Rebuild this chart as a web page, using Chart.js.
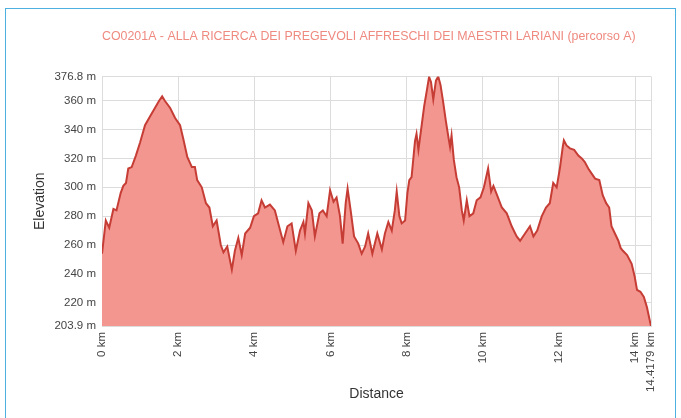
<!DOCTYPE html>
<html>
<head>
<meta charset="utf-8">
<script src="https://cdn.jsdelivr.net/npm/chart.js@4/dist/chart.umd.min.js"></script>
<style>
  html, body { margin: 0; padding: 0; background: #fff; overflow: hidden; }
  #frame { position: absolute; left: 5px; top: 8px; width: 669px; height: 420px; border: 1px solid #4cb0e0; }
  #wrap { position: absolute; left: 0; top: 0; width: 681px; height: 418px; }
</style>
</head>
<body>
<div id="frame"></div>
<div id="wrap"><canvas id="profileChart" width="681" height="418"></canvas></div>
<script>
// elevation profile
const chartTitle = 'CO0201A - ALLA RICERCA DEI PREGEVOLI AFFRESCHI DEI MAESTRI LARIANI (percorso A)';

const distKm = [
  0.00, 0.10, 0.19, 0.30, 0.38, 0.49, 0.56, 0.63, 0.69, 0.78, 0.89, 1.00, 1.13, 1.26, 1.39, 1.50,
  1.58, 1.65, 1.79, 1.92, 2.05, 2.14, 2.24, 2.36, 2.44, 2.50, 2.62, 2.73, 2.82, 2.91, 3.01, 3.12,
  3.19, 3.29, 3.41, 3.49, 3.58, 3.67, 3.76, 3.89, 3.99, 4.10, 4.19, 4.28, 4.41, 4.54, 4.63, 4.76,
  4.87, 4.98, 5.09, 5.20, 5.29, 5.33, 5.42, 5.51, 5.59, 5.71, 5.80, 5.90, 5.99, 6.08, 6.16, 6.25,
  6.32, 6.40, 6.45, 6.53, 6.62, 6.73, 6.82, 6.91, 6.99, 7.10, 7.23, 7.35, 7.43, 7.52, 7.61, 7.69,
  7.74, 7.81, 7.87, 7.96, 8.02, 8.07, 8.13, 8.22, 8.26, 8.31, 8.40, 8.46, 8.53, 8.59, 8.64, 8.70,
  8.77, 8.83, 8.89, 8.96, 9.03, 9.09, 9.14, 9.18, 9.24, 9.31, 9.38, 9.45, 9.50, 9.58, 9.65, 9.75,
  9.84, 9.94, 10.03, 10.14, 10.22, 10.28, 10.37, 10.50, 10.63, 10.76, 10.89, 10.98, 11.11, 11.24,
  11.33, 11.43, 11.55, 11.66, 11.76, 11.85, 11.94, 12.03, 12.10, 12.13, 12.20, 12.29, 12.40, 12.51,
  12.60, 12.68, 12.77, 12.86, 12.95, 13.06, 13.15, 13.24, 13.32, 13.38, 13.47, 13.56, 13.62, 13.68,
  13.79, 13.91, 13.99, 14.05, 14.14, 14.23, 14.31, 14.40, 14.4179
];

const elevM = [
  254, 277, 272, 285, 284, 296, 301, 303, 313, 314, 322, 331, 343, 349, 355, 360,
  363, 360, 355, 348, 343, 333, 321, 314, 314, 305, 300, 289, 286, 273, 277, 260,
  255, 259, 243, 256, 265, 253, 268, 272, 280, 282, 291, 286, 288, 284, 275, 262,
  273, 275, 256, 270, 276, 268, 289, 284, 266, 282, 284, 280, 298, 290, 293, 280,
  261, 289, 299, 284, 266, 261, 254, 259, 268, 254, 268, 257, 268, 276, 270, 284,
  297, 280, 275, 277, 296, 305, 307, 332, 337, 326, 344, 356, 367, 376.5, 373, 361,
  374, 376.8, 371, 359, 346, 336, 328, 336, 319, 307, 300, 284, 277, 291, 280, 282,
  291, 293, 300, 313, 297, 301, 295, 286, 282, 273, 266, 263, 268, 273,
  266, 270, 280, 286, 289, 303, 300, 314, 328, 332.5, 329, 327, 326, 322,
  320, 317.5, 313, 309.5, 306, 305, 294.5, 289, 286, 273, 268, 263, 258, 256,
  253, 247, 238, 229, 227.6, 224, 217, 206, 203.9
];

const xTickKm = [0, 2, 4, 6, 8, 10, 12, 14, 14.4179];
const yTickM = [203.9, 220, 240, 260, 280, 300, 320, 340, 360, 376.8];

document.addEventListener('DOMContentLoaded', function () {

  Chart.defaults.font.family = "'Liberation Sans', Arial, sans-serif";

  const ctx = document.getElementById('profileChart').getContext('2d');
  const points = distKm.map((d, i) => ({ x: d, y: elevM[i] }));

  new Chart(ctx, {
    type: 'line',
    data: {
      datasets: [{
        label: 'Elevation',
        data: points,
        borderColor: '#c63d36',
        borderWidth: 2,
        backgroundColor: '#f3968f',
        fill: 'start',
        pointRadius: 0,
        tension: 0
      }]
    },
    options: {
      responsive: false,
      animation: false,
      layout: { padding: { left: 26, right: 30, top: 0, bottom: 11 } },
      plugins: {
        legend: { display: false },
        tooltip: { enabled: false },
        title: {
          display: true,
          text: chartTitle,
          color: '#ef8a80',
          align: 'start',
          fullSize: false,
          font: { size: 12.4, weight: 'normal' },
          padding: { top: 29, bottom: 32.6 }
        }
      },
      scales: {
        x: {
          type: 'linear',
          min: 0,
          max: 14.4179,
          afterBuildTicks: function (scale) {
            scale.ticks = xTickKm.map(v => ({ value: v }));
          },
          afterFit: function (scale) { scale.height = 81; },
          ticks: {
            autoSkip: false,
            minRotation: 90,
            maxRotation: 90,
            padding: 6,
            color: '#444',
            font: { size: 11.5 },
            callback: v => v + ' km'
          },
          grid: { color: '#dcdcdc', drawTicks: false },
          border: { color: '#dcdcdc' },
          title: { display: true, text: 'Distance', color: '#333', font: { size: 14 }, padding: { top: 4, bottom: 4 } }
        },
        y: {
          min: 203.9,
          max: 376.8,
          afterBuildTicks: function (scale) {
            scale.ticks = yTickM.map(v => ({ value: v }));
          },
          afterFit: function (scale) { scale.width = 76; },
          ticks: {
            padding: 6,
            color: '#444',
            font: { size: 11.5 },
            callback: v => v + ' m'
          },
          grid: { color: '#dcdcdc', drawTicks: false },
          border: { color: '#dcdcdc' },
          title: { display: true, text: 'Elevation', color: '#333', font: { size: 14 }, padding: { top: 6, bottom: 0 } }
        }
      }
    }
  });

});
</script>
</body>
</html>
